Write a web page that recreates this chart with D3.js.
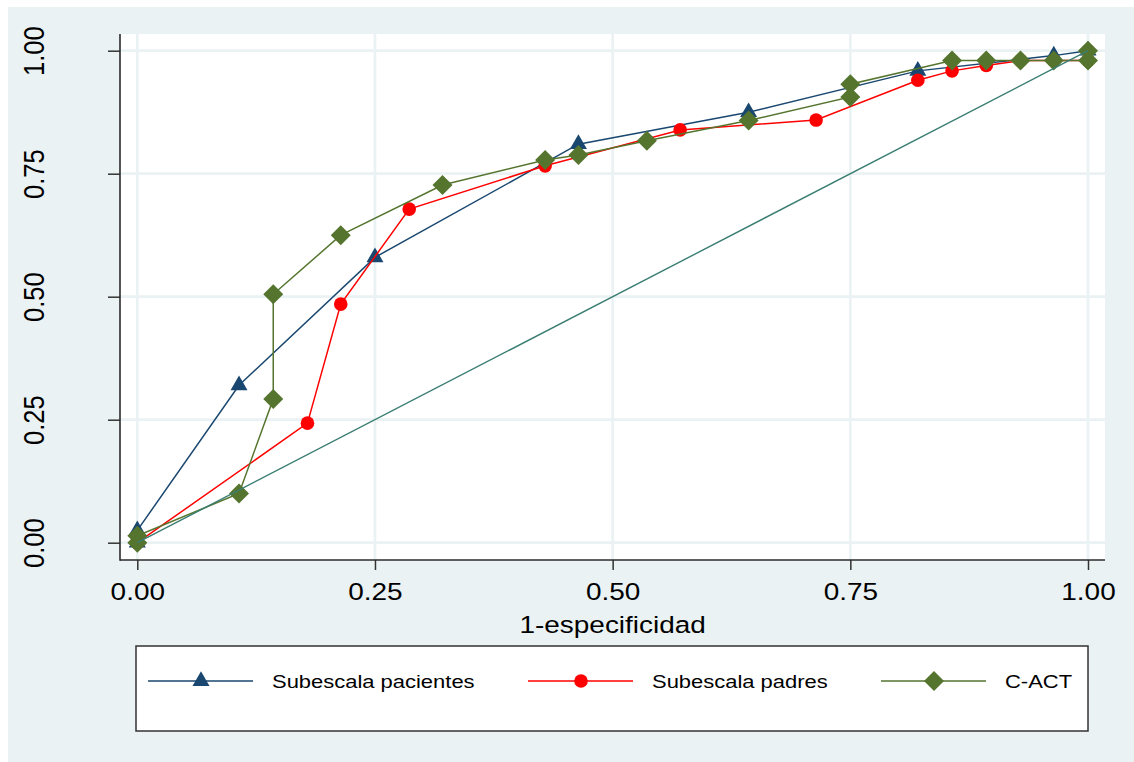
<!DOCTYPE html>
<html><head><meta charset="utf-8">
<script src="https://cdn.jsdelivr.net/npm/d3@7"></script>
<style>
body{margin:0;background:#fff}
svg{display:block}
text{font-family:Arial,"Liberation Sans",sans-serif;fill:#000}
</style>
</head><body>
<svg id="c" width="1134" height="762"></svg>
<script>
// ---- data ----
const xTicks = [0, 0.25, 0.5, 0.75, 1];
const yTicks = [0, 0.25, 0.5, 0.75, 1];
const tickFormat = d3.format(".2f");
const xTitle = "1-especificidad";
const seriesNames = ["Subescala pacientes", "Subescala padres", "C-ACT"];

const pacientesX = [0, 0, 0.107, 0.25, 0.464, 0.643, 0.821, 0.964, 1];
const pacientesY = [0, 0.025, 0.32, 0.58, 0.81, 0.875, 0.959, 0.99, 1];

const padresX = [0, 0.179, 0.214, 0.286, 0.429, 0.571, 0.714, 0.821, 0.857, 0.893, 0.929, 0.964, 1, 1];
const padresY = [0, 0.243, 0.485, 0.678, 0.766, 0.839, 0.859, 0.94, 0.959, 0.97, 0.98, 0.98, 0.98, 1];

const cactX = [0, 0, 0.107, 0.143, 0.143, 0.214, 0.321, 0.429, 0.464, 0.536, 0.643, 0.75, 0.75, 0.857, 0.893, 0.929, 0.964, 1, 1];
const cactY = [0, 0.014, 0.10, 0.292, 0.505, 0.625, 0.727, 0.778, 0.788, 0.817, 0.858, 0.906, 0.932, 0.98, 0.98, 0.98, 0.98, 0.98, 1];

const refX = [0, 1];
const refY = [0, 1];

// ---- styles ----
const colors = ["#1a476f", "#ff0000", "#55752f"];
const refColor = "#3a7d72";
const bgColor = "#eaf2f3";

const svg = d3.select("#c");
const W = 1134, H = 762;
const plot = {left: 120, right: 1105, top: 34, bottom: 560};

const x = d3.scaleLinear().domain([0, 1]).range([137.3, 1088]);
const y = d3.scaleLinear().domain([0, 1]).range([542.7, 50.7]);

// background
svg.append("rect").attr("x", 0).attr("y", 0).attr("width", W).attr("height", H).attr("fill", "#fff");
svg.append("rect").attr("x", 8).attr("y", 7).attr("width", W - 8).attr("height", H - 7).attr("fill", bgColor);
svg.append("rect").attr("x", plot.left).attr("y", plot.top)
  .attr("width", plot.right - plot.left).attr("height", plot.bottom - plot.top).attr("fill", "#fff");

// gridlines
svg.append("g").selectAll("line").data(yTicks).join("line")
  .attr("x1", plot.left).attr("x2", plot.right)
  .attr("y1", d => y(d)).attr("y2", d => y(d))
  .attr("stroke", bgColor).attr("stroke-width", 2.7);
svg.append("g").selectAll("line").data(xTicks).join("line")
  .attr("y1", plot.top).attr("y2", plot.bottom)
  .attr("x1", d => x(d)).attr("x2", d => x(d))
  .attr("stroke", bgColor).attr("stroke-width", 2.7);

// axes
const yAxis = d3.axisLeft(y).tickValues(yTicks).tickFormat(tickFormat).tickSize(12).tickSizeOuter(0);
const gy = svg.append("g").attr("transform", `translate(${plot.left},0)`).call(yAxis);
gy.select(".domain").remove();
gy.selectAll(".tick line").attr("stroke", "#333").attr("stroke-width", 1.5);
gy.selectAll(".tick text")
  .attr("x", 0).attr("y", 0).attr("dy", 0)
  .attr("text-anchor", "middle")
  .attr("transform", `translate(${43.5 - plot.left},0) scale(1.18,1) rotate(-90)`)
  .style("font-size", "25.5px").style("font-family", "Arial, 'Liberation Sans', sans-serif").attr("fill", "#000");

const xAxis = d3.axisBottom(x).tickValues(xTicks).tickFormat(tickFormat).tickSize(10).tickSizeOuter(0);
const gx = svg.append("g").attr("transform", `translate(0,${plot.bottom})`).call(xAxis);
gx.select(".domain").remove();
gx.selectAll(".tick line").attr("stroke", "#333").attr("stroke-width", 1.5);
gx.selectAll(".tick text")
  .attr("x", 0).attr("y", 0).attr("dy", 0)
  .attr("text-anchor", "middle")
  .attr("transform", "translate(0,40) scale(1.2,1)")
  .style("font-size", "23.3px").style("font-family", "Arial, 'Liberation Sans', sans-serif").attr("fill", "#000");

// axis lines
svg.append("line").attr("x1", plot.left).attr("x2", plot.left).attr("y1", plot.top).attr("y2", plot.bottom + 0.75)
  .attr("stroke", "#2b2b2b").attr("stroke-width", 1.6);
svg.append("line").attr("x1", plot.left).attr("x2", plot.right).attr("y1", plot.bottom).attr("y2", plot.bottom)
  .attr("stroke", "#2b2b2b").attr("stroke-width", 1.6);

// axis title
svg.append("text").attr("text-anchor", "middle")
  .attr("transform", `translate(${(x(0) + x(1)) / 2},633) scale(1.2,1)`)
  .style("font-size", "23.3px").text(xTitle);

// markers
function triPath(s) { const h = s * Math.sqrt(3) / 2; return `M0,${-2*h/3}L${s/2},${h/3}L${-s/2},${h/3}Z`; }
function diaPath(s) { const r = s / 2; return `M0,${-r}L${r},0L0,${r}L${-r},0Z`; }
function drawMarker(g, type, cx, cy, color) {
  if (type === "tri") g.append("path").attr("d", triPath(17)).attr("transform", `translate(${cx},${cy})`).attr("fill", color);
  else if (type === "circ") g.append("circle").attr("cx", cx).attr("cy", cy).attr("r", 6.8).attr("fill", color);
  else g.append("path").attr("d", diaPath(20)).attr("transform", `translate(${cx},${cy})`).attr("fill", color);
}

const series = [
  {xs: pacientesX, ys: pacientesY, type: "tri"},
  {xs: padresX, ys: padresY, type: "circ"},
  {xs: cactX, ys: cactY, type: "dia"}
];
const line = d3.line().x(d => x(d[0])).y(d => y(d[1]));
series.forEach((s, i) => {
  const pts = s.xs.map((v, j) => [v, s.ys[j]]);
  const g = svg.append("g");
  g.append("path").attr("d", line(pts)).attr("fill", "none").attr("stroke", colors[i]).attr("stroke-width", 1.5);
  pts.forEach(p => drawMarker(g, s.type, x(p[0]), y(p[1]), colors[i]));
});

// reference line
svg.append("path").attr("d", line(refX.map((v, j) => [v, refY[j]])))
  .attr("fill", "none").attr("stroke", refColor).attr("stroke-width", 1.4);

// legend
svg.append("rect").attr("x", 136).attr("y", 646).attr("width", 952).attr("height", 85)
  .attr("fill", "#fff").attr("stroke", "#333").attr("stroke-width", 1.5);
const legendLineX = [148, 528, 881];
const types = ["tri", "circ", "dia"];
const ly = 681;
seriesNames.forEach((name, i) => {
  const g = svg.append("g");
  const x0 = legendLineX[i];
  g.append("line").attr("x1", x0).attr("x2", x0 + 105).attr("y1", ly).attr("y2", ly)
    .attr("stroke", colors[i]).attr("stroke-width", 1.5);
  drawMarker(g, types[i], x0 + 53, ly, colors[i]);
  g.append("text").attr("transform", `translate(${x0 + 124},${ly + 7}) scale(1.2,1)`)
    .style("font-size", "18.3px").text(name);
});
</script>
</body></html>
